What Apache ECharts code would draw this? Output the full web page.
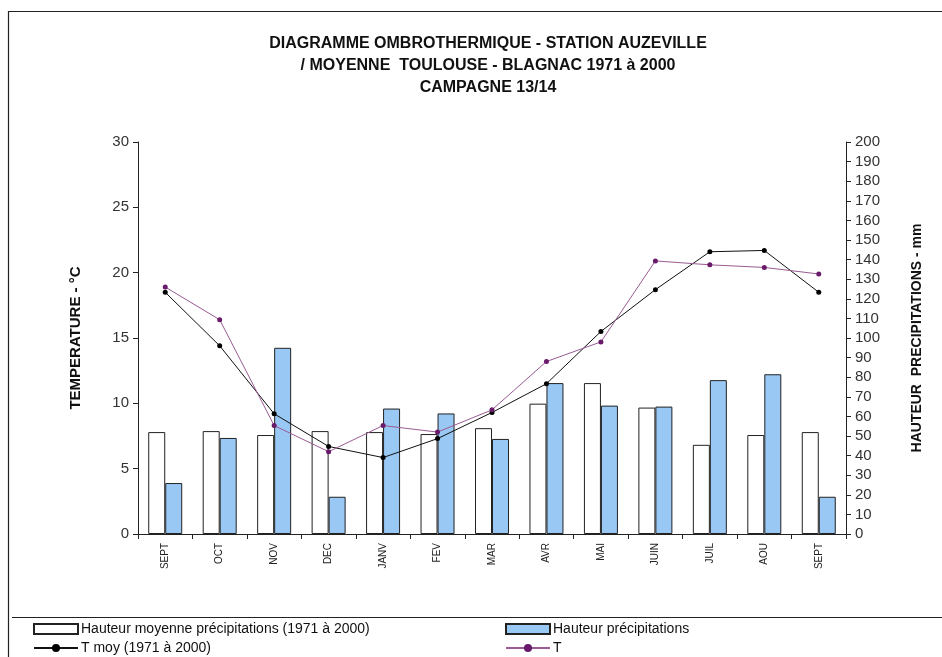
<!DOCTYPE html>
<html>
<head>
<meta charset="utf-8">
<script src="https://cdn.jsdelivr.net/npm/echarts@6/dist/echarts.min.js"></script>
<style>html,body{margin:0;padding:0;background:#fff}#c{width:942px;height:657px}</style>
</head>
<body>
<div id="c"></div>
<script>
var months = ['SEPT','OCT','NOV','DEC','JANV','FEV','MAR','AVR','MAI','JUIN','JUIL','AOU','SEPT'];
var precipMoy = [52, 52.5, 50.5, 52.5, 52, 51, 54, 66.5, 77, 64.5, 45.5, 50.5, 52];
var precip = [26, 49, 95, 19, 64, 61.5, 48.5, 77, 65.5, 65, 78.5, 81.5, 19];
var tMoy = [18.5, 14.4, 9.2, 6.7, 5.85, 7.3, 9.3, 11.5, 15.5, 18.7, 21.6, 21.7, 18.5];
var tCur = [18.9, 16.4, 8.3, 6.3, 8.3, 7.8, 9.5, 13.2, 14.7, 20.9, 20.6, 20.4, 19.9];
var tempTicks = [0, 30, 5];
var rainTicks = [0, 200, 10];

var chart = echarts.init(document.getElementById('c'));
var ff = 'Liberation Sans, Arial, sans-serif';
var names = ['Hauteur moyenne précipitations (1971 à 2000)', 'Hauteur précipitations', 'T moy (1971 à 2000)', 'T'];
function lg(name, left, top, icon) {
  return {data: [name], left: left, top: top, itemWidth: 44, itemHeight: 10, itemGap: 0, padding: 0,
    textStyle: {fontFamily: ff, fontSize: 14, color: '#111', padding: [0, 0, 0, -2]}, icon: icon, selectedMode: false};
}
chart.setOption({
  animation: false,
  backgroundColor: '#fff',
  textStyle: {fontFamily: ff},
  title: {
    text: 'DIAGRAMME OMBROTHERMIQUE - STATION AUZEVILLE\n/ MOYENNE  TOULOUSE - BLAGNAC 1971 à 2000\nCAMPAGNE 13/14',
    left: 483, top: 28, textAlign: 'center',
    textStyle: {fontFamily: ff, fontSize: 16, fontWeight: 'bold', color: '#111', lineHeight: 22}
  },
  legend: [
    lg(names[0], 33, 622, 'rect'),
    lg(names[1], 505, 622, 'rect'),
    lg(names[2], 33, 641),
    lg(names[3], 505, 641)
  ],
  graphic: [
    {type: 'polyline', shape: {points: [[8.5, 657], [8.5, 11.5], [942, 11.5]]}, style: {stroke: '#222', fill: null, lineWidth: 1.2}},
    {type: 'line', shape: {x1: 12, y1: 617.5, x2: 942, y2: 617.5}, style: {stroke: '#222', lineWidth: 1.2}}
  ],
  grid: {left: 138, right: 96, top: 142, bottom: 123},
  xAxis: {
    type: 'category', data: months, boundaryGap: true,
    axisLine: {lineStyle: {color: '#222'}},
    axisTick: {show: true, length: 5, lineStyle: {color: '#222'}},
    axisLabel: {rotate: 90, fontSize: 10, color: '#222', margin: 9, interval: 0}
  },
  yAxis: [
    {
      type: 'value', min: tempTicks[0], max: tempTicks[1], interval: tempTicks[2],
      name: 'TEMPERATURE - °C', nameLocation: 'middle', nameGap: 55, nameRotate: 90,
      nameTextStyle: {fontFamily: ff, fontSize: 15, fontWeight: 'bold', color: '#111'},
      axisLine: {show: true, lineStyle: {color: '#222'}},
      axisTick: {show: true, length: 5, lineStyle: {color: '#222'}},
      axisLabel: {fontSize: 15, color: '#333', margin: 9},
      splitLine: {show: false}
    },
    {
      type: 'value', min: rainTicks[0], max: rainTicks[1], interval: rainTicks[2], position: 'right',
      name: 'HAUTEUR  PRECIPITATIONS - mm', nameLocation: 'middle', nameGap: 64, nameRotate: 90,
      nameTextStyle: {fontFamily: ff, fontSize: 14, fontWeight: 'bold', color: '#111'},
      axisLine: {show: true, lineStyle: {color: '#222'}},
      axisTick: {show: true, length: 5, lineStyle: {color: '#222'}},
      axisLabel: {fontSize: 15, color: '#333', margin: 9},
      splitLine: {show: false}
    }
  ],
  series: [
    {name: names[0], type: 'bar', yAxisIndex: 1, data: precipMoy, barWidth: 17, barGap: '0%',
      itemStyle: {color: '#fff', borderColor: '#222', borderWidth: 1}},
    {name: names[1], type: 'bar', yAxisIndex: 1, data: precip, barWidth: 17, barGap: '0%',
      itemStyle: {color: '#99c8f5', borderColor: '#222', borderWidth: 1}},
    {name: names[2], type: 'line', yAxisIndex: 0, data: tMoy, symbol: 'circle', symbolSize: 5,
      lineStyle: {color: '#111', width: 1}, itemStyle: {color: '#000'}},
    {name: names[3], type: 'line', yAxisIndex: 0, data: tCur, symbol: 'circle', symbolSize: 5,
      lineStyle: {color: '#9a5a92', width: 1}, itemStyle: {color: '#6a1a6a'}}
  ]
});
</script>
</body>
</html>
